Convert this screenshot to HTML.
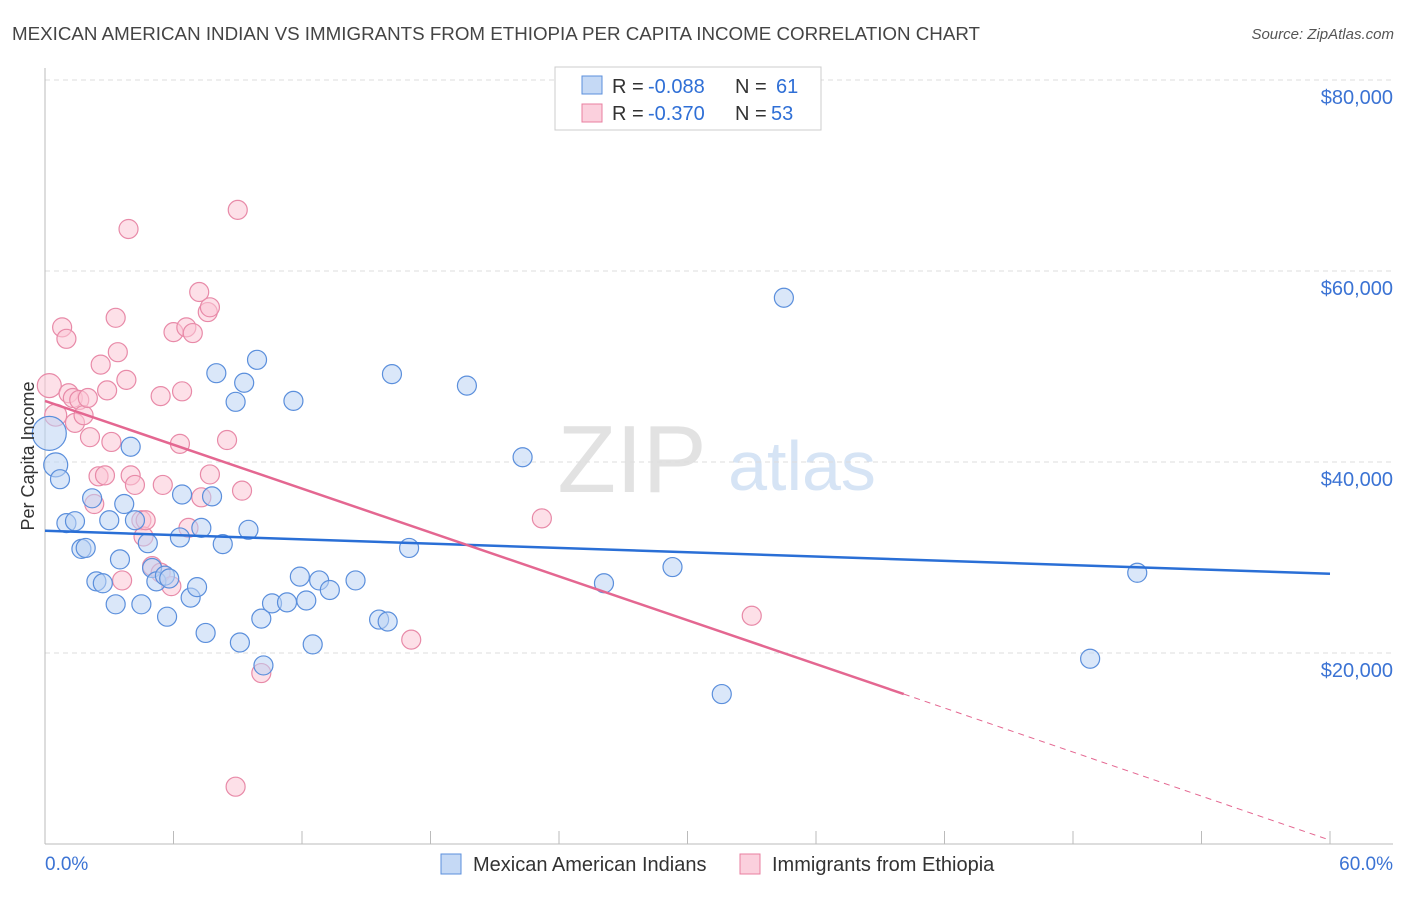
<!DOCTYPE html>
<html><head><meta charset="utf-8"><style>
body{margin:0;background:#fff;font-family:"Liberation Sans",sans-serif;}
svg text{font-family:"Liberation Sans",sans-serif;}
</style></head><body>
<svg width="1406" height="892" viewBox="0 0 1406 892" xmlns="http://www.w3.org/2000/svg">
<text x="12" y="40" font-size="18" fill="#444" textLength="968" lengthAdjust="spacingAndGlyphs">MEXICAN AMERICAN INDIAN VS IMMIGRANTS FROM ETHIOPIA PER CAPITA INCOME CORRELATION CHART</text>
<text x="1394" y="39" font-size="15" fill="#555" text-anchor="end" font-style="italic">Source: ZipAtlas.com</text>
<g>
<text x="632" y="492" font-size="96" fill="#e2e2e2" text-anchor="middle" font-family="Liberation Serif">ZIP</text>
<text x="802" y="490" font-size="70" fill="#d6e4f5" text-anchor="middle">atlas</text>
</g>
<g id="grid"></g>
<g id="axes"></g>
<g id="marks"></g>
<g id="lines"></g>
<g>
<rect x="555" y="67" width="266" height="63" fill="#fff" stroke="#ccc"/>
<rect x="582" y="76" width="20" height="18" fill="#c5d9f5" stroke="#5b8fdc"/>
<rect x="582" y="104" width="20" height="18" fill="#fbd0dd" stroke="#e87fa0"/>
<g font-size="20">
<text x="612" y="93" fill="#333">R =</text><text x="648" y="93" fill="#2f6fd6">-0.088</text>
<text x="735" y="93" fill="#333">N =</text><text x="776" y="93" fill="#2f6fd6">61</text>
</g>
<g font-size="20">
<text x="612" y="120" fill="#333">R =</text><text x="648" y="120" fill="#2f6fd6">-0.370</text>
<text x="735" y="120" fill="#333">N =</text><text x="771" y="120" fill="#2f6fd6">53</text>
</g>
</g>
<g>
<rect x="441" y="854" width="20" height="20" fill="#c5d9f5" stroke="#5b8fdc"/>
<text x="473" y="871" font-size="20" fill="#333">Mexican American Indians</text>
<rect x="740" y="854" width="20" height="20" fill="#fbd0dd" stroke="#e87fa0"/>
<text x="772" y="871" font-size="20" fill="#333">Immigrants from Ethiopia</text>
</g>
<text x="34" y="456" font-size="18" fill="#333" text-anchor="middle" transform="rotate(-90 34 456)">Per Capita Income</text>
<text x="45" y="870" font-size="19" fill="#3b73d4">0.0%</text>
<text x="1393" y="870" font-size="19" fill="#3b73d4" text-anchor="end">60.0%</text>
</svg>
<script>
const blueX=[0.2,0.5,0.7,1.0,1.4,1.7,1.9,2.2,2.4,2.7,3.0,3.3,3.5,3.7,4.0,4.2,4.5,4.8,5.0,5.2,5.6,5.7,5.8,6.3,6.4,6.8,7.1,7.3,7.5,7.8,8.0,8.3,8.9,9.1,9.3,9.5,9.9,10.1,10.2,10.6,11.3,11.6,11.9,12.2,12.5,12.8,13.3,14.5,15.6,16.0,16.2,17.0,19.7,22.3,26.1,29.3,31.6,34.5,48.8,51.0];
const blueY=[43000,39700,38200,33600,33800,30900,31000,36200,27500,27300,33900,25100,29800,35600,41600,33900,25100,31500,28900,27500,28100,23800,27800,32100,36600,25800,26900,33100,22100,36400,49300,31400,46300,21100,48300,32900,50700,23600,18700,25200,25300,46400,28000,25500,20900,27600,26600,27600,23500,23300,49200,31000,48000,40500,27300,29000,15700,57200,19400,28400];
const pinkX=[0.2,0.5,0.8,1.0,1.1,1.3,1.4,1.6,1.8,2.0,2.1,2.3,2.5,2.6,2.8,2.9,3.1,3.3,3.4,3.6,3.8,3.9,4.0,4.2,4.5,4.6,4.7,5.0,5.4,5.4,5.5,5.9,6.0,6.3,6.4,6.6,6.7,6.9,7.2,7.3,7.6,7.7,7.7,8.5,8.9,9.0,9.2,10.1,17.1,23.2,33.0];
const pinkY=[48000,44900,54100,52900,47200,46700,44100,46500,44900,46700,42600,35600,38500,50200,38600,47500,42100,55100,51500,27600,48600,64400,38600,37600,33900,32200,33900,29100,28400,46900,37600,27000,53600,41900,47400,54100,33100,53500,57800,36300,55700,56200,38700,42300,6000,66400,37000,17900,21400,34100,23900];
const yTicks=[20000,40000,60000,80000];
const yTickLabels=["$20,000","$40,000","$60,000","$80,000"];
const xTicks=[0,6,12,18,24,30,36,42,48,54,60];
const blueTrend=[[0,32800],[60,28300]];
const pinkTrend=[[0,46400],[40.1,15700],[60,400]];

const NS="http://www.w3.org/2000/svg";
const X=v=>45+v/60*1285;
const Y=v=>844-v/20000*191;
function mk(tag,attrs,parent){const e=document.createElementNS(NS,tag);for(const k in attrs)e.setAttribute(k,attrs[k]);document.getElementById(parent).appendChild(e);return e;}
yTicks.forEach((t,i)=>{
 const l=mk('line',{x1:45,x2:1393,y1:Y(t),y2:Y(t),stroke:'#ddd','stroke-dasharray':'5,4'},'grid');
 
 
 const tx=mk('text',{x:1393,y:Y(t)+24,'font-size':20,fill:'#3b73d4','text-anchor':'end'},'grid');
 tx.textContent=yTickLabels[i];
 
 
});
let ax=mk('line',{x1:45,x2:45,y1:68,y2:844,stroke:'#bbb'},'axes');


let bx=mk('line',{x1:45,x2:1393,y1:844,y2:844,stroke:'#bbb'},'axes');


xTicks.forEach(t=>{
 const l=mk('line',{x1:X(t),x2:X(t),y1:831,y2:844,stroke:'#bbb'},'axes');
 
 
});
function pts(xs,ys,fill,stroke,name,big){
 xs.forEach((x,i)=>{
  const r=i<2?big[i]:9.5;
  const c=mk('circle',{cx:X(x),cy:Y(ys[i]),r:r,fill:fill,stroke:stroke,'stroke-width':1.2,'fill-opacity':0.55},'marks');
  
  
 });
}
pts(pinkX,pinkY,'#fbc6d6','#e88aa8','pink-point',[12,11]);
pts(blueX,blueY,'#bcd4f4','#5b8fdc','blue-point',[17,12]);
let b=mk('line',{x1:X(blueTrend[0][0]),y1:Y(blueTrend[0][1]),x2:X(blueTrend[1][0]),y2:Y(blueTrend[1][1]),stroke:'#2a6fd6','stroke-width':2.5},'lines');


let p=mk('line',{x1:X(pinkTrend[0][0]),y1:Y(pinkTrend[0][1]),x2:X(pinkTrend[1][0]),y2:Y(pinkTrend[1][1]),stroke:'#e46791','stroke-width':2.5},'lines');


let pd=mk('line',{x1:X(pinkTrend[1][0]),y1:Y(pinkTrend[1][1]),x2:X(pinkTrend[2][0]),y2:Y(pinkTrend[2][1]),stroke:'#e46791','stroke-width':1,'stroke-dasharray':'6,5'},'lines');


</script>
</body></html>
